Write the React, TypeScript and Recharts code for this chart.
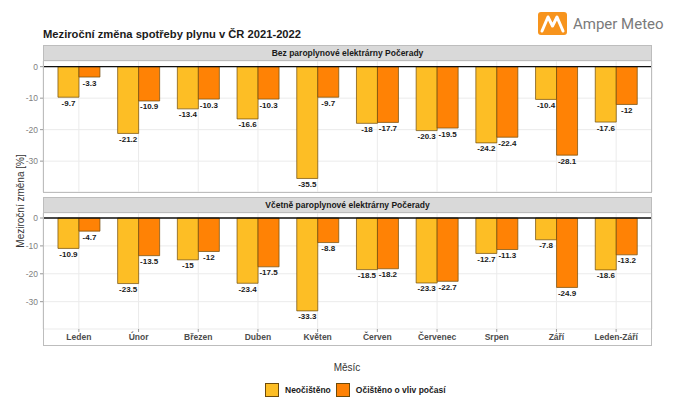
import React from "react";
import {
  BarChart,
  Bar,
  XAxis,
  YAxis,
  CartesianGrid,
  ReferenceLine,
  LabelList,
  Legend,
} from "recharts";

const months = ["Leden", "Únor", "Březen", "Duben", "Květen", "Červen", "Červenec", "Srpen", "Září", "Leden-Září"];
const bezRaw = [-9.7, -21.2, -13.4, -16.6, -35.5, -18, -20.3, -24.2, -10.4, -17.6];
const bezAdj = [-3.3, -10.9, -10.3, -10.3, -9.7, -17.7, -19.5, -22.4, -28.1, -12];
const vcRaw = [-10.9, -23.5, -15, -23.4, -33.3, -18.5, -23.3, -12.7, -7.8, -18.6];
const vcAdj = [-4.7, -13.5, -12, -17.5, -8.8, -18.2, -22.7, -11.3, -24.9, -13.2];
const yTicks = [0, -10, -20, -30];
const panelTitles = ["Bez paroplynové elektrárny Počerady", "Včetně paroplynové elektrárny Počerady"];
const seriesNames = ["Neočištěno", "Očištěno o vliv počasí"];

const C_RAW = "#FDBE25";
const C_ADJ = "#FF8205";
const C_STROKE = "#6E4B0A";
const FONT = "'Liberation Sans', Arial, sans-serif";

const data1 = months.map((m, i) => ({ m, raw: bezRaw[i], adj: bezAdj[i] }));
const data2 = months.map((m, i) => ({ m, raw: vcRaw[i], adj: vcAdj[i] }));

const ValueLabel = (props: any) => {
  const { x, y, width, height, value } = props;
  const bottom = Math.max(y, y + height);
  return (
    <text
      x={x + width / 2}
      y={bottom + 6}
      textAnchor="middle"
      dominantBaseline="central"
      fontSize={8}
      fontWeight="bold"
      fontFamily={FONT}
      fill="#1a1a1a"
    >
      {value}
    </text>
  );
};

const LegendContent = () => (
  <div style={{ display: "flex", alignItems: "center", fontFamily: FONT, fontSize: 8.5, fontWeight: "bold", color: "#1a1a1a" }}>
    {[C_RAW, C_ADJ].map((c, i) => (
      <div key={i} style={{ display: "flex", alignItems: "center", marginRight: 5 }}>
        <div style={{ width: 14, height: 14, background: c, border: `1px solid ${C_STROKE}`, boxSizing: "border-box", marginRight: 6 }} />
        <span>{seriesNames[i]}</span>
      </div>
    ))}
  </div>
);

const PLOT_LEFT = 43;
const PLOT_RIGHT = 652;

function Panel({ data, top, bottom, height, showX }: any) {
  return (
    <BarChart
      width={682}
      height={height}
      data={data}
      margin={{ top, right: 682 - PLOT_RIGHT, left: 0, bottom }}
      barCategoryGap="15%"
      barGap={0}
    >
      <CartesianGrid stroke="#EBEBEB" strokeWidth={1} />
      <XAxis
        dataKey="m"
        hide={!showX}
        padding={{ left: 6, right: 6 }}
        axisLine={false}
        tickLine={{ stroke: "#999" }}
        tickSize={3}
        height={20}
        tick={{ fontSize: 8.5, fontWeight: "bold", fill: "#4d4d4d", fontFamily: FONT }}
        interval={0}
      />
      <YAxis
        type="number"
        domain={[-39.8, 1.8]}
        allowDataOverflow
        ticks={yTicks}
        width={PLOT_LEFT}
        axisLine={false}
        tickLine={{ stroke: "#999" }}
        tickSize={3}
        tick={{ fontSize: 8.5, fill: "#7f7f7f", fontFamily: FONT }}
      />
      <Bar dataKey="raw" name={seriesNames[0]} fill={C_RAW} stroke={C_STROKE} strokeWidth={0.7} isAnimationActive={false}>
        <LabelList dataKey="raw" content={ValueLabel} />
      </Bar>
      <Bar dataKey="adj" name={seriesNames[1]} fill={C_ADJ} stroke={C_STROKE} strokeWidth={0.7} isAnimationActive={false}>
        <LabelList dataKey="adj" content={ValueLabel} />
      </Bar>
      <ReferenceLine y={0} stroke="#111" strokeWidth={1.3} />
      {showX && (
        <Legend
          content={LegendContent}
          wrapperStyle={{ position: "absolute", left: 265, top: 383, width: 300, height: 16 }}
        />
      )}
    </BarChart>
  );
}

const strip = (top: number, text: string) => (
  <div
    style={{
      position: "absolute",
      left: PLOT_LEFT,
      top,
      width: PLOT_RIGHT - PLOT_LEFT,
      height: 16,
      background: "#D9D9D9",
      border: "1px solid #BDBDBD",
      boxSizing: "border-box",
      fontFamily: FONT,
      fontSize: 8.5,
      fontWeight: "bold",
      color: "#1a1a1a",
      display: "flex",
      alignItems: "center",
      justifyContent: "center",
    }}
  >
    {text}
  </div>
);

const border = (top: number, h: number) => (
  <div
    style={{
      position: "absolute",
      left: PLOT_LEFT,
      top,
      width: PLOT_RIGHT - PLOT_LEFT,
      height: h,
      border: "1px solid #BDBDBD",
      boxSizing: "border-box",
      pointerEvents: "none",
    }}
  />
);

export default function App() {
  return (
    <div style={{ position: "relative", width: 682, height: 420, background: "#fff", overflow: "hidden", fontFamily: FONT }}>
      <style>{`body{margin:0}`}</style>
      <div style={{ position: "absolute", left: 0, top: 0 }}>
        <Panel data={data1} top={61} bottom={8} height={200} showX={false} />
      </div>
      <div style={{ position: "absolute", left: 0, top: 0 }}>
        <Panel data={data2} top={213} bottom={55} height={420} showX={true} />
      </div>
      {strip(45, panelTitles[0])}
      {border(60, 133)}
      {strip(197, panelTitles[1])}
      {border(212, 134)}
      <div style={{ position: "absolute", left: 43, top: 28, fontSize: 11.2, fontWeight: "bold", color: "#1a1a1a", whiteSpace: "nowrap" }}>
        Meziroční změna spotřeby plynu v ČR 2021-2022
      </div>
      <div
        style={{
          position: "absolute",
          left: 20,
          top: 201,
          transform: "translate(-50%, -50%) rotate(-90deg)",
          fontSize: 10,
          color: "#333",
          whiteSpace: "nowrap",
        }}
      >
        Meziroční změna [%]
      </div>
      <div style={{ position: "absolute", left: 347, top: 367, transform: "translate(-50%, -50%)", fontSize: 10, color: "#333" }}>
        Měsíc
      </div>
      <div style={{ position: "absolute", left: 538, top: 12, width: 29, height: 23, background: "#F7941D", borderRadius: 3 }}>
        <svg width={29} height={23} viewBox="0 0 29 23">
          <polyline points="4,19 10,5 14.5,14 19,5 25,19" fill="none" stroke="#fff" strokeWidth={3} strokeLinejoin="round" strokeLinecap="round" />
        </svg>
      </div>
      <div style={{ position: "absolute", left: 573, top: 15, fontSize: 15, color: "#7a7a7a", whiteSpace: "nowrap", fontFamily: "Roboto, 'Liberation Sans', sans-serif" }}>
        Amper Meteo
      </div>
    </div>
  );
}
